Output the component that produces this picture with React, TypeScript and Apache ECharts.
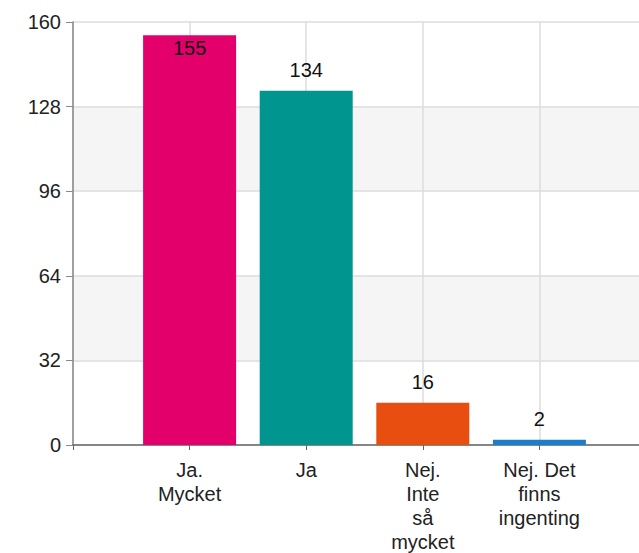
import React, { useEffect, useRef } from "react";
import * as echarts from "echarts";

const categories = ["", "Ja.\nMycket", "Ja", "Nej.\nInte\nså\nmycket", "Nej. Det\nfinns\ningenting", ""];
const values = [null, 155, 134, 16, 2, null];
const barColors = ["#ffffff", "#e3006a", "#00968f", "#e84e10", "#1a7dcd", "#ffffff"];
const yTicks = { min: 0, max: 160, interval: 32 };

export default function App() {
  const ref = useRef<HTMLDivElement>(null);
  useEffect(() => {
    document.body.style.margin = "0";
    const chart = echarts.init(ref.current!, null, { renderer: "svg" });
    const font = "'Liberation Sans', Arial, sans-serif";
    chart.setOption({
      animation: false,
      textStyle: { fontFamily: font },
      grid: { left: 73, top: 22, height: 423, width: 583, containLabel: false, outerBoundsMode: "none" },
      xAxis: {
        type: "category",
        data: categories,
        boundaryGap: false,
        axisLine: { lineStyle: { color: "#666", width: 1.5 } },
        axisTick: { show: true, length: 5, lineStyle: { color: "#666" } },
        axisLabel: { color: "#222", fontSize: 20, lineHeight: 24, margin: 13, interval: 0, fontFamily: font },
        splitLine: { show: true, lineStyle: { color: "#dddddd", width: 1.5 } },
      },
      yAxis: {
        type: "value",
        min: yTicks.min,
        max: yTicks.max,
        interval: yTicks.interval,
        axisLine: { show: true, lineStyle: { color: "#888", width: 1.5 } },
        axisTick: { show: true, length: 7, lineStyle: { color: "#888" } },
        axisLabel: { color: "#222", fontSize: 20, margin: 12, fontFamily: font },
        splitLine: { show: true, lineStyle: { color: "#dddddd", width: 1.5 } },
        splitArea: { show: true, areaStyle: { color: ["#ffffff", "#f5f5f5"] } },
      },
      series: [
        {
          type: "bar",
          barWidth: 93,
          data: values.map((v, i) => ({
            value: v,
            itemStyle: { color: barColors[i] },
            label: i === 1
              ? { show: true, position: "insideTop", distance: 3, color: "#111", fontSize: 20 }
              : { show: v !== null, position: "top", distance: 11, color: "#111", fontSize: 20 },
          })),
        },
      ],
    });
    return () => chart.dispose();
  }, []);
  return <div ref={ref} style={{ width: 639, height: 553 }} />;
}
